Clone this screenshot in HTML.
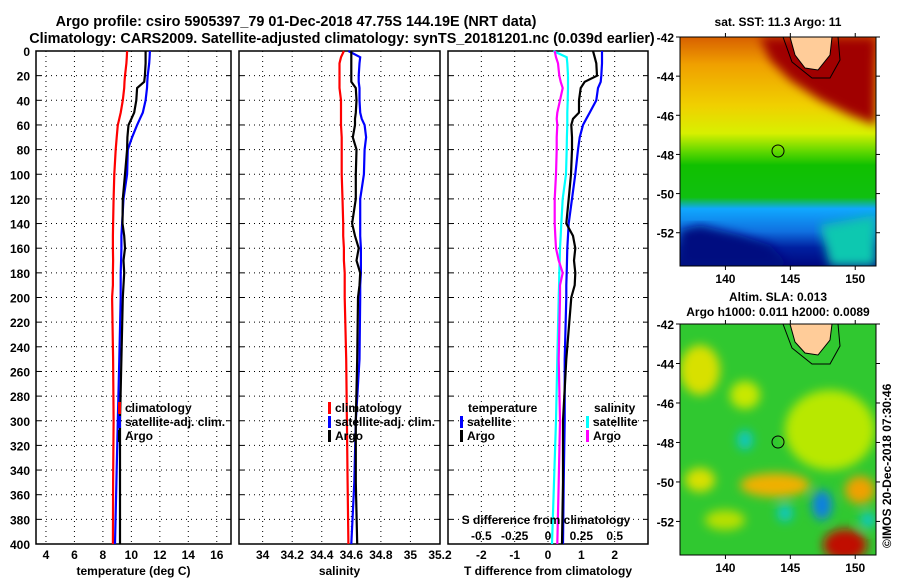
<!DOCTYPE html>
<html><head><meta charset="utf-8"><style>
body{margin:0;background:#fff;width:900px;height:580px;overflow:hidden}
svg text{font-family:"Liberation Sans",sans-serif;font-weight:bold;fill:#000}
</style></head><body>
<svg id="c" width="900" height="580" xmlns="http://www.w3.org/2000/svg">
<defs>
<linearGradient id="sstg" x1="0" y1="0" x2="0" y2="1">
<stop offset="0" stop-color="#d86000"/><stop offset="0.12" stop-color="#f0a000"/>
<stop offset="0.3" stop-color="#f0d000"/><stop offset="0.42" stop-color="#d8f000"/>
<stop offset="0.5" stop-color="#60d800"/><stop offset="0.56" stop-color="#10c000"/>
<stop offset="0.7" stop-color="#10c010"/><stop offset="0.75" stop-color="#10a8ff"/>
<stop offset="0.85" stop-color="#1070e0"/><stop offset="0.92" stop-color="#0020a0"/>
<stop offset="1" stop-color="#000880"/></linearGradient>
<filter id="bl"><feGaussianBlur stdDeviation="5"/></filter>
<clipPath id="m1c"><rect x="680" y="37" width="196" height="229"/></clipPath>
<clipPath id="m2c"><rect x="680" y="324" width="196" height="231"/></clipPath>
</defs>
<text x="296" y="26" font-size="14.4" text-anchor="middle">Argo profile: csiro 5905397_79 01-Dec-2018 47.75S 144.19E (NRT data)</text>
<text x="342" y="43" font-size="14.4" text-anchor="middle">Climatology: CARS2009. Satellite-adjusted climatology: synTS_20181201.nc (0.039d earlier)</text>
<g id="panels"></g>
<!-- SST map -->
<g clip-path="url(#m1c)">
<rect x="680" y="37" width="196" height="229" fill="url(#sstg)"/>
<path d="M760,37 L876,37 L876,125 L850,115 L820,100 L790,80 L770,60 Z" fill="#a00000" filter="url(#bl)"/>
<path d="M680,230 L700,225 L740,235 L770,245 L790,266 L680,266 Z" fill="#000880" filter="url(#bl)"/>
<path d="M820,225 L876,215 L876,266 L830,266 Z" fill="#10c8b0" filter="url(#bl)"/>
<path d="M790,37 L832,37 L830,55 L818,70 L805,68 L795,55 Z" fill="#ffcc99" stroke="#000" stroke-width="1"/>
<path d="M783,37 L792,62 L812,78 L830,78 L840,60 L838,37" fill="none" stroke="#000"/>
<circle cx="778" cy="151" r="6" fill="none" stroke="#000"/>
</g>
<rect x="680" y="37" width="196" height="229" fill="none" stroke="#000"/>
<text x="778" y="26" font-size="12" text-anchor="middle">sat. SST: 11.3 Argo: 11</text>
<!-- SLA map -->
<g clip-path="url(#m2c)">
<rect x="680" y="324" width="196" height="231" fill="#30c830"/>
<g filter="url(#bl)">
<ellipse cx="830" cy="430" rx="45" ry="40" fill="#b8e800"/>
<ellipse cx="700" cy="370" rx="20" ry="25" fill="#d8e000"/>
<ellipse cx="775" cy="485" rx="35" ry="12" fill="#f0b000"/>
<ellipse cx="860" cy="490" rx="15" ry="14" fill="#f0a000"/>
<ellipse cx="845" cy="545" rx="22" ry="16" fill="#c01000"/>
<ellipse cx="822" cy="505" rx="10" ry="15" fill="#1080e0"/>
<ellipse cx="745" cy="440" rx="8" ry="10" fill="#10c8c0"/>
<ellipse cx="785" cy="513" rx="8" ry="9" fill="#10c8c0"/>
<ellipse cx="868" cy="520" rx="8" ry="8" fill="#10c8c0"/>
<ellipse cx="745" cy="395" rx="15" ry="14" fill="#c8e800"/>
<ellipse cx="700" cy="480" rx="15" ry="12" fill="#d8e000"/>
<ellipse cx="725" cy="520" rx="20" ry="10" fill="#b8e000"/>
</g>
<path d="M790,324 L832,324 L830,340 L818,355 L805,353 L795,342 Z" fill="#ffcc99" stroke="#000" stroke-width="1"/>
<path d="M783,324 L792,348 L812,364 L830,364 L840,346 L838,324" fill="none" stroke="#000"/>
<circle cx="778" cy="442" r="6" fill="none" stroke="#000"/>
</g>
<rect x="680" y="324" width="196" height="231" fill="none" stroke="#000"/>
<text x="778" y="301" font-size="12" text-anchor="middle">Altim. SLA: 0.013</text>
<text x="778" y="316" font-size="12" text-anchor="middle">Argo h1000: 0.011 h2000: 0.0089</text>
<text transform="translate(891,548) rotate(-90)" font-size="12">©IMOS 20-Dec-2018 07:30:46</text>
<g id="maxes"></g>
</svg>
<script>
const depths=[0,5,10,20,25,30,40,50,55,60,70,80,100,120,140,150,160,170,180,190,200,250,300,350,400];
const tClim=[9.7,9.68,9.65,9.55,9.52,9.5,9.4,9.25,9.15,9.05,8.97,8.9,8.8,8.75,8.72,8.7,8.7,8.72,8.7,8.7,8.65,8.72,8.75,8.72,8.7];
const tSat=[11.3,11.28,11.25,11.15,11.12,11.1,11.0,10.8,10.6,10.4,10.05,9.75,9.7,9.45,9.35,9.3,9.3,9.28,9.25,9.25,9.25,9.15,9.05,8.95,8.85];
const tArgo=[11.0,11.0,11.0,10.95,10.9,10.4,10.35,10.2,10.0,9.8,9.72,9.7,9.55,9.4,9.38,9.5,9.55,9.45,9.5,9.45,9.4,9.3,9.2,9.2,9.2];
const sClim=[34.55,34.53,34.52,34.52,34.52,34.52,34.53,34.53,34.53,34.53,34.535,34.535,34.535,34.54,34.545,34.545,34.55,34.55,34.555,34.555,34.555,34.565,34.57,34.575,34.58];
const sSat=[34.58,34.66,34.655,34.65,34.65,34.655,34.655,34.66,34.67,34.69,34.70,34.69,34.685,34.66,34.66,34.66,34.665,34.665,34.665,34.66,34.66,34.655,34.63,34.62,34.60];
const sArgo=[34.6,34.6,34.6,34.6,34.6,34.63,34.635,34.63,34.625,34.625,34.61,34.635,34.63,34.63,34.605,34.625,34.65,34.635,34.66,34.655,34.645,34.64,34.63,34.63,34.64];
const dTSat=[1.62,1.62,1.62,1.6,1.58,1.5,1.45,1.25,1.15,1.05,0.95,0.9,0.82,0.72,0.62,0.6,0.58,0.57,0.56,0.55,0.55,0.5,0.5,0.47,0.45];
const dTArgo=[1.35,1.4,1.45,1.47,1.1,0.98,0.93,0.93,0.75,0.7,0.72,0.72,0.69,0.62,0.55,0.75,0.82,0.78,0.82,0.8,0.7,0.55,0.45,0.45,0.42];
const dSSat=[0.04,0.14,0.145,0.15,0.15,0.15,0.148,0.145,0.145,0.145,0.142,0.14,0.135,0.11,0.1,0.095,0.09,0.088,0.085,0.083,0.08,0.07,0.06,0.045,0.03];
const dSArgo=[0.05,0.06,0.075,0.085,0.095,0.11,0.09,0.07,0.065,0.07,0.065,0.065,0.06,0.05,0.05,0.055,0.06,0.08,0.11,0.09,0.09,0.08,0.09,0.08,0.07];
const depthTicks=[0,20,40,60,80,100,120,140,160,180,200,220,240,260,280,300,320,340,360,380,400];
const tTicks=[4,6,8,10,12,14,16];
const sTicks=[34,34.2,34.4,34.6,34.8,35,35.2];
const dTTicks=[-2,-1,0,1,2];
const dSTicks=[-0.5,-0.25,0,0.25,0.5];
const dSTickLabels=["-0.5","-0.25","0","0.25","0.5"];
const lonTicks=[140,145,150];
const latTicks=[-42,-44,-46,-48,-50,-52];

const NS='http://www.w3.org/2000/svg';
const svg=document.getElementById('c');
const G=document.getElementById('panels');
function mk(tag,attrs,parent){const e=document.createElementNS(NS,tag);for(const k in attrs)e.setAttribute(k,attrs[k]);(parent||G).appendChild(e);return e;}
const Y0=51,Y1=544;
const yScale=d=>Y0+d/400*(Y1-Y0);
function lin(d0,d1,p0,p1){return v=>p0+(v-d0)/(d1-d0)*(p1-p0);}
const panels=[
 {x0:36,x1:231,sc:lin(3.3,17.0,36,231),ticks:tTicks,lab:"temperature (deg C)",name:"temperature"},
 {x0:239,x1:440,sc:lin(33.84,35.2,239,440),ticks:sTicks,lab:"salinity",name:"salinity"},
 {x0:448,x1:648,sc:lin(-3,3,448,648),ticks:dTTicks,lab:"T difference from climatology",name:"difference"}
];
panels.forEach((p,i)=>{
  const g=mk('g',{});
  
  
  depthTicks.forEach(d=>{if(d>0&&d<400){const l=mk('line',{x1:p.x0,x2:p.x1,y1:yScale(d),y2:yScale(d),stroke:'#000','stroke-dasharray':'1,4'},g);}
    mk('line',{x1:p.x0,x2:p.x0+5,y1:yScale(d),y2:yScale(d),stroke:'#000'},g);
    mk('line',{x1:p.x1-5,x2:p.x1,y1:yScale(d),y2:yScale(d),stroke:'#000'},g);
    if(i==0){const tx=mk('text',{x:30,y:yScale(d)+5,'font-size':12,'text-anchor':'end'},g);tx.textContent=d;}
  });
  p.ticks.forEach(v=>{const x=p.sc(v);
    const l=mk('line',{x1:x,x2:x,y1:Y0,y2:Y1,stroke:'#000','stroke-dasharray':'1,4'},g);
    
    const tx=mk('text',{x:x,y:559,'font-size':12,'text-anchor':'middle'},g);tx.textContent=v;
    });
  const lt=mk('text',{x:(p.x0+p.x1)/2,y:575,'font-size':12,'text-anchor':'middle'},g);lt.textContent=p.lab;
  
  const fr=mk('rect',{x:p.x0,y:Y0,width:p.x1-p.x0,height:Y1-Y0,fill:'none',stroke:'#000','stroke-width':1.5},g);
  
});
function line(vals,sc,color,name){
  const pts=vals.map((v,i)=>sc(v).toFixed(1)+','+yScale(depths[i]).toFixed(1)).join(' ');
  const pl=mk('polyline',{points:pts,fill:'none',stroke:color,'stroke-width':2.2});
  
  
}
const dsScale=lin(-0.75,0.75,448,648);
line(tClim,panels[0].sc,'#ff0000','temp-climatology-line');
line(tSat,panels[0].sc,'#0000ff','temp-satellite-line');
line(tArgo,panels[0].sc,'#000','temp-argo-line');
line(sClim,panels[1].sc,'#ff0000','sal-climatology-line');
line(sSat,panels[1].sc,'#0000ff','sal-satellite-line');
line(sArgo,panels[1].sc,'#000','sal-argo-line');
line(dSSat,dsScale,'#00ffff','sdiff-satellite-line');
line(dSArgo,dsScale,'#ff00ff','sdiff-argo-line');
line(dTSat,panels[2].sc,'#0000ff','tdiff-satellite-line');
line(dTArgo,panels[2].sc,'#000','tdiff-argo-line');
const st=mk('text',{x:546,y:524,'font-size':12,'text-anchor':'middle'});st.textContent='S difference from climatology';

dSTicks.forEach((v,i)=>{const t=mk('text',{x:dsScale(v),y:540,'font-size':12,'text-anchor':'middle'});t.textContent=dSTickLabels[i];
 });
function legend(x,y,items,name){
  items.forEach((it,i)=>{
    if(it[1]){const r=mk('rect',{x:x,y:y+i*14-10,width:3,height:12,fill:it[1]});}
    const t=mk('text',{x:x+(it[1]?7:0),y:y+i*14,'font-size':12});t.textContent=it[0];
    
  });
}
legend(118,412,[['climatology','#ff0000'],['satellite-adj. clim.','#0000ff'],['Argo','#000']],'temp-legend');
legend(328,412,[['climatology','#ff0000'],['satellite-adj. clim.','#0000ff'],['Argo','#000']],'sal-legend');
legend(468,412,[['temperature',null]],'tdiff-legend');
legend(460,426,[['satellite','#0000ff'],['Argo','#000']],'tdiff-legend');
legend(594,412,[['salinity',null]],'sdiff-legend');
legend(586,426,[['satellite','#00ffff'],['Argo','#ff00ff']],'sdiff-legend');
const MA=document.getElementById('maxes');
const lonSc=lin(136.5,151.6,680,876);
[[37,266,'sst'],[324,555,'sla']].forEach(([t,b,nm])=>{
  const latSc=lin(-42,-53.7,t,b);
  lonTicks.forEach(v=>{const x=lonSc(v);
    mk('line',{x1:x,x2:x,y1:t-4,y2:t,stroke:'#000'},MA);mk('line',{x1:x,x2:x,y1:b,y2:b+4,stroke:'#000'},MA);
    const tx=mk('text',{x:x,y:b+17,'font-size':12,'text-anchor':'middle'},MA);tx.textContent=v;
    });
  latTicks.forEach(v=>{const y=latSc(v);
    mk('line',{x1:676,x2:680,y1:y,y2:y,stroke:'#000'},MA);mk('line',{x1:876,x2:880,y1:y,y2:y,stroke:'#000'},MA);
    const tx=mk('text',{x:674,y:y+5,'font-size':12,'text-anchor':'end'},MA);tx.textContent=v;
    });
});
</script>
</body></html>
